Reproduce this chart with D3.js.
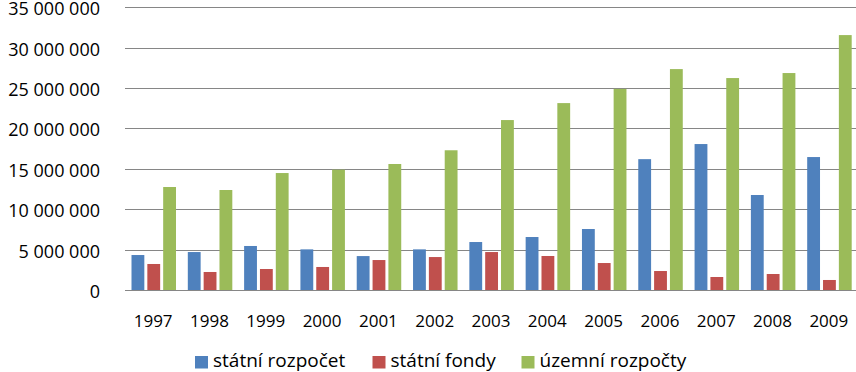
<html>
<script src="https://d3js.org/d3.v7.min.js"></script>
<style>
body { margin: 0; background: #fff; }
text { font-family: "Open Sans", "Noto Sans", sans-serif; fill: #000; }
</style>
<body>
<svg width="856" height="372"></svg>
<script>
var years = ["1997","1998","1999","2000","2001","2002","2003","2004","2005","2006","2007","2008","2009"];
var seriesNames = ["státní rozpočet", "státní fondy", "územní rozpočty"];
var statniRozpocet = [4330000, 4700000, 5450000, 5030000, 4200000, 5030000, 5940000, 6560000, 7550000, 16200000, 18070000, 11760000, 16460000];
var statniFondy = [3220000, 2230000, 2600000, 2850000, 3710000, 4080000, 4700000, 4210000, 3340000, 2350000, 1610000, 1980000, 1240000];
var uzemniRozpocty = [12750000, 12380000, 14480000, 14900000, 15600000, 17300000, 21040000, 23140000, 24900000, 27350000, 26240000, 26860000, 31560000];
var yTicks = [0, 5000000, 10000000, 15000000, 20000000, 25000000, 30000000, 35000000];
var colors = ["#4F81BD", "#C0504D", "#9BBB59"];

var series = [statniRozpocet, statniFondy, uzemniRozpocty];
var svg = d3.select("svg");

var plotLeft = 125, plotRight = 857, plotTop = 7.3, plotBottom = 290;

var x0 = d3.scaleBand().domain(years).range([plotLeft, plotRight]);
var x1 = d3.scaleBand().domain([0,1,2]).range([6.5, 51]).paddingInner(0.19);
var y = d3.scaleLinear().domain([0, 35000000]).range([plotBottom, plotTop]);

var cz = d3.formatLocale({decimal: ",", thousands: " ", grouping: [3], currency: ["", " Kč"]});
var fmt = cz.format(",d");

// gridlines
svg.append("g").selectAll("line").data(yTicks).enter().append("line")
	.attr("x1", plotLeft).attr("x2", 856)
	.attr("y1", function(d){ return Math.round(y(d)) + 0.5; })
	.attr("y2", function(d){ return Math.round(y(d)) + 0.5; })
	.attr("stroke", "#868686").attr("stroke-width", 1);

// y labels
svg.append("g").selectAll("text").data(yTicks).enter().append("text")
	.attr("x", 100)
	.attr("y", function(d){ return y(d) + 8; })
	.attr("text-anchor", "end")
	.style("font-size", "18px")
	.text(function(d){ return fmt(d); });

// bars
var groups = svg.append("g").selectAll("g").data(years).enter().append("g")
	.attr("transform", function(d){ return "translate(" + x0(d) + ",0)"; });

groups.selectAll("rect").data(function(d, i){ return series.map(function(s, j){ return {j: j, v: s[i]}; }); })
	.enter().append("rect")
	.attr("x", function(d){ return x1(d.j); })
	.attr("width", x1.bandwidth())
	.attr("y", function(d){ return y(d.v); })
	.attr("height", function(d){ return plotBottom - y(d.v); })
	.attr("fill", function(d){ return colors[d.j]; });

// axis line over bars
svg.append("line").attr("x1", plotLeft).attr("x2", 856).attr("y1", 290.5).attr("y2", 290.5)
	.attr("stroke", "#868686");

// x labels
svg.append("g").selectAll("text").data(years).enter().append("text")
	.attr("x", function(d){ return x0(d) + x0.bandwidth()/2; })
	.attr("y", 327)
	.attr("text-anchor", "middle")
	.style("font-size", "17px")
	.text(function(d){ return d; });

// legend
var legendX = [195, 372.5, 521.5];
var legend = svg.append("g").selectAll("g").data(seriesNames).enter().append("g")
	.attr("transform", function(d, i){ return "translate(" + legendX[i] + ",356)"; });
legend.append("rect").attr("width", 13).attr("height", 12.5)
	.attr("fill", function(d, i){ return colors[i]; });
legend.append("text").attr("x", 18).attr("y", 11)
	.style("font-size", "19px")
	.text(function(d){ return d; });
</script>
</body>
</html>
